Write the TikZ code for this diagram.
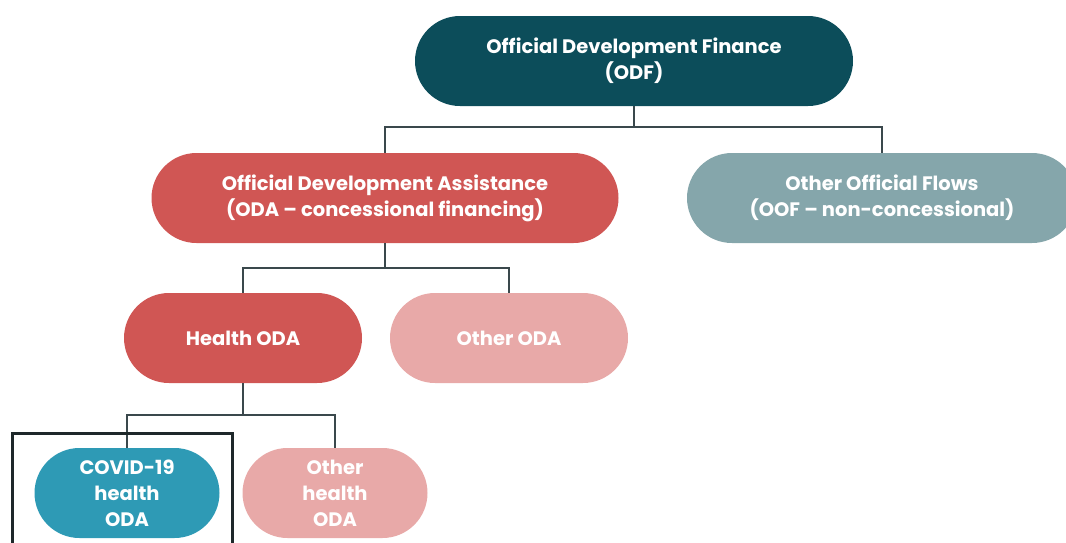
\documentclass[tikz,border=0pt]{standalone}
\usepackage{fontspec}
\setmainfont{Poppins}
\usepackage{tikz}
\definecolor{ODF}{RGB}{12, 77, 90}
\definecolor{ODA}{RGB}{208, 86, 84}
\definecolor{OOF}{RGB}{133, 166, 171}
\definecolor{P}{RGB}{232, 169, 168}
\definecolor{C}{RGB}{46, 154, 181}
\definecolor{L}{RGB}{58, 72, 76}
\definecolor{K}{RGB}{30, 40, 42}

\begin{document}
\begin{tikzpicture}[x=1pt, y=-1pt,
    pill/.style={rectangle, rounded corners=45pt, minimum height=90pt,
        text=white, align=center, inner sep=0pt,
        font=\fontsize{19.5}{26}\selectfont\bfseries},
    link/.style={draw=L, line width=2pt}]
    \useasboundingbox (0,0) rectangle (1066,542);

    % Nivel superior
    \node[pill, fill=ODF, minimum width=438pt] (odf) at (634,61)
        {Official Development Finance\\(ODF)};

    % Segundo nivel
    \node[pill, fill=ODA, minimum width=467pt] (oda) at (385,198)
        {Official Development Assistance\\(ODA -- concessional financing)};
    \node[pill, fill=OOF, minimum width=390pt] (oof) at (882,198)
        {Other Official Flows\\(OOF -- non-concessional)};

    % Tercer nivel
    \node[pill, fill=ODA, minimum width=238pt] (health) at (243,338) {Health ODA};
    \node[pill, fill=P, minimum width=238pt] (otheroda) at (509,338) {Other ODA};

    % Cuarto nivel
    \node[pill, fill=C, minimum width=185pt] (covid) at (127,493)
        {COVID-19\\health\\ODA};
    \node[pill, fill=P, minimum width=185pt] (otherhealth) at (335,493)
        {Other\\health\\ODA};

    % Conectores
    \coordinate (j1) at (634,127);
    \coordinate (j2) at (385,268);
    \coordinate (j3) at (243,415);
    \draw[link] (odf.south) -- (j1);
    \draw[link] (j1) -| (oda.north);
    \draw[link] (j1) -| (oof.north);
    \draw[link] (oda.south) -- (j2);
    \draw[link] (j2) -| (health.north);
    \draw[link] (j2) -| (otheroda.north);
    \draw[link] (health.south) -- (j3);
    \draw[link] (j3) -| (covid.north);
    \draw[link] (j3) -| (otherhealth.north);

    % Marco del recuadro COVID
    \draw[draw=K, line width=3pt] (12,433) rectangle (232,560);
\end{tikzpicture}
\end{document}
